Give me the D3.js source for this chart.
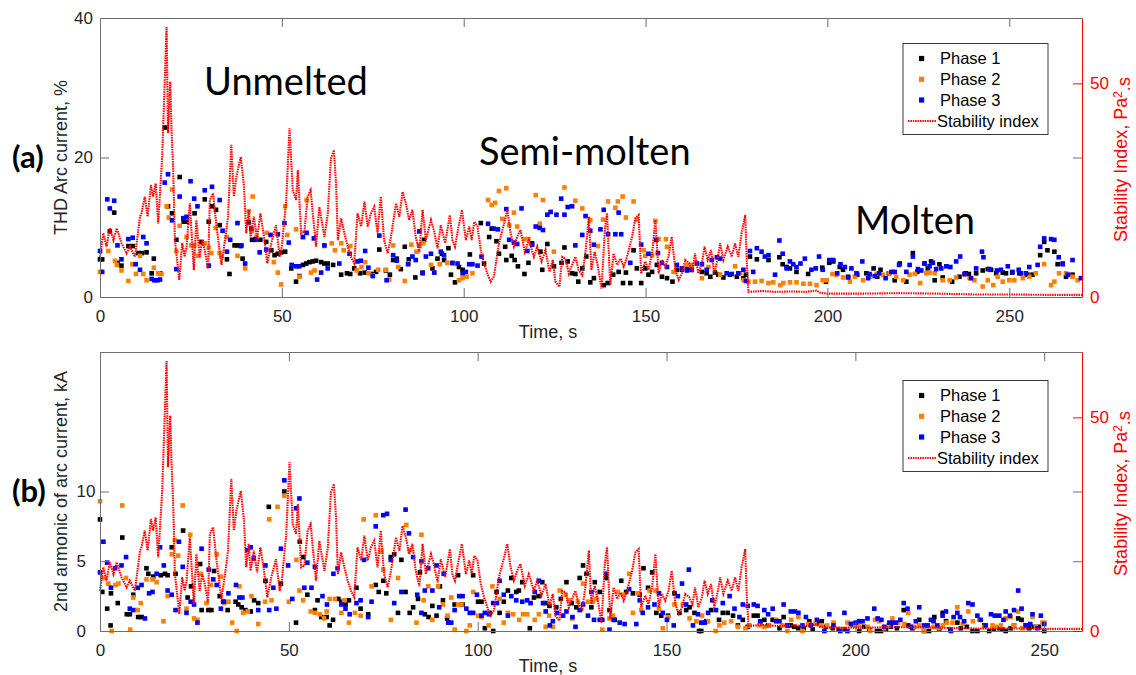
<!doctype html>
<html>
<head>
<meta charset="utf-8"/>
<style>
  html, body { margin: 0; padding: 0; background: #fff; }
  svg { display: block; }
  text { font-family: "Liberation Sans", Arial, sans-serif; }
  .note { font-family: Lato, "Open Sans", sans-serif; }
</style>
<script src="https://cdn.jsdelivr.net/npm/d3@7"></script>
</head>
<body>
<svg width="1136" height="675"></svg>
<script>
// ---- data: [time s, value] ----
var phase1A = [[0,5.4],[0.6,5.4],[2.7,9.4],[3.9,12.1],[4.8,4.9],[5.9,4.5],[7.8,7.3],[9,7.3],[10.5,6.3],[11.5,6.3],[12.8,6.4],[14.2,3.4],[14.8,5.5],[16.5,3.4],[17.8,24.3],[18.7,13],[19.8,12],[21,8.2],[21.9,17.2],[23,10.8],[23.8,10.8],[26,12],[27.9,7.9],[28.8,14],[29.9,10.8],[30.8,13],[31.9,12.5],[32.9,10.3],[34.9,5.4],[35.6,3.3],[37,7.4],[37.8,7.4],[38.7,7.3],[39.2,5.5],[40.9,10.7],[41.8,8.2],[42.7,8.2],[44.1,8.2],[45.7,7.9],[47.1,6.7],[48,6.0],[48.9,6.2],[49.8,6.4],[50.9,6.5],[52.6,4.1],[53.9,2.2],[54.8,3.0],[55.8,4.6],[56.7,4.8],[57.6,5.0],[58.5,5.1],[59.4,5.2],[60.8,5.0],[61.7,4.8],[62.6,4.8],[64.1,4.6],[66.3,3.2],[67.9,3.4],[68.8,3.3],[69.9,4.1],[71.5,3.4],[72.8,3.5],[75,3.3],[75.9,3.6],[76.8,6.8],[78.6,3.8],[79.7,3.2],[80.6,5.3],[81.6,5.5],[82.7,4.0],[83.8,7.2],[84.9,5.4],[86.7,2.8],[87.8,7.4],[88.7,3.5],[89.1,8.2],[91.4,4.1],[92.8,5.5],[94,6.2],[94.6,5.3],[95.8,7.0],[96.5,3.2],[97.6,2.1],[98.7,4.3],[99.7,3.9],[101.7,6.1],[104.7,10.6],[105.6,4.8],[107,8.6],[107.7,9.8],[109,8.0],[109.7,6.2],[111.4,7.2],[111.7,5.3],[113.2,5.9],[114,5.3],[114.9,4.4],[116.7,3.3],[117.8,4.9],[118.8,7.7],[121.1,6.5],[121.6,3.9],[123,7.6],[124.8,4.4],[126.9,4.9],[127.7,7.1],[128.6,5.1],[129.8,3.4],[130.7,3.3],[131.5,2.2],[132.6,4.1],[133.7,5.8],[134.8,2.1],[135.8,2.7],[138.5,1.7],[139.6,2.0],[141.1,3.2],[142.6,3.6],[143.8,2.0],[144.6,3.5],[145.8,2.0],[146.7,6.7],[147.6,4.1],[148.8,2.0],[149.9,4.1],[150.8,3.2],[151.8,3.6],[153.1,4.6],[154.5,2.9],[155.9,2.7],[157.4,2.2],[158.6,3.9],[160,3.9],[161.4,4.1],[162.7,3.9],[165.5,3.6],[166.8,3.4],[167.8,2.9],[169.1,3.5],[170,3.2],[171.4,2.8],[173.2,3.2],[175.1,2.9],[176.9,2.7],[177.6,3.2],[178.7,5.8],[180.6,5.4],[183.8,5.3],[186.8,5.7],[187.7,4.7],[188.8,4.3],[189.7,4.1],[191.5,3.6],[194.7,3.3],[198.6,4.2],[199.6,2.2],[200.5,4.9],[201.6,5.1],[203.4,4.3],[204.3,3.9],[205.7,2.9],[208.2,3.2],[210.7,3.4],[212.7,4.1],[213.7,2.9],[214.6,3.9],[216.9,3.4],[218.5,2.4],[219.9,4.8],[221.7,2.2],[223.5,6.3],[224.7,3.6],[226.7,4.8],[227.6,4.1],[228.5,5.1],[229.5,2.4],[230.8,4.7],[231.7,2.8],[234.3,2.2],[236.3,2.9],[238,3.4],[238.9,3.3],[240.9,3.4],[242.7,3.8],[244.1,4.0],[245,3.9],[246.4,3.4],[248.2,3.5],[249.1,3.4],[250.8,3.5],[252.8,3.4],[255,3.2],[256.4,3.2],[258.5,6.0],[259.6,7.9],[260.5,6.7],[262.4,6.5],[263.3,4.7],[264.7,4.8],[265.6,2.9],[267.4,3.2]];

var phase2A = [[0,3.6],[2.3,6.6],[4.1,5.2],[4.6,4.6],[5.9,3.8],[7.8,2.3],[8.9,4.7],[9.9,3.3],[11,5.9],[11.9,3.3],[12.8,2.4],[14.8,4.2],[16,3.4],[16.9,3.3],[18.3,13],[18.9,11.4],[19.8,15.4],[21,6.6],[21.9,10.2],[23.8,8.6],[25.1,7.4],[25.9,7.4],[27,5.9],[28.8,7.7],[29.9,7.1],[30.6,6.3],[31.8,9.9],[32.9,6.3],[33.4,5.8],[34.9,8.6],[37.8,5.9],[39.9,4.1],[40.9,12.3],[41.8,9.5],[42,14.4],[43,8.6],[45.9,9.2],[47.8,5.0],[48.9,3.5],[49.8,1.8],[50.9,13],[51.5,8.9],[53.9,9.7],[54.8,2.9],[55.8,8.6],[56.8,13.9],[58,3.5],[59,3.8],[61.7,7.3],[63.7,7.7],[64.6,6.7],[66.3,7.7],[67,6.7],[68.8,7.3],[70.6,3.8],[71.9,4.3],[72.9,5.0],[73.8,3.4],[75,3.1],[76.5,3.9],[78.6,3.9],[79.5,2.5],[80.6,7.4],[82,4.3],[83.8,2.3],[84.9,4.8],[85.6,7.5],[87,6.5],[87.9,7.4],[88.9,7.7],[91,4.6],[91.9,3.5],[93.4,4.7],[95.5,4.9],[96.9,4.8],[98.7,2.4],[99.7,2.7],[100.8,2.9],[102.4,3.4],[106.7,13.9],[107.7,13.2],[108.6,13.5],[109.7,15.2],[110.6,11.2],[111.7,15.6],[112.5,10.3],[113.8,12.1],[114.7,10.1],[116.8,8.3],[117.8,8.3],[119.8,14.6],[120.9,10.5],[121.8,13.9],[124.8,6.5],[127.7,15.7],[130.7,13.8],[132.6,12.7],[134.8,11],[136.9,7.3],[138.3,11.1],[139.7,13.7],[141.7,12.8],[142.4,13.7],[143.7,14.4],[144.6,11.4],[146.7,13.7],[147.6,11.1],[149.5,6.7],[149.9,5.9],[151.8,6.0],[152.7,10.9],[153.6,8.3],[155.6,8.3],[155.9,7.2],[157.7,3.6],[160,4.1],[161.4,4.6],[162.7,4.6],[165.5,2.7],[167.3,4.3],[170.5,3.2],[174.6,4.4],[176,3.4],[177,2.4],[178.3,2.2],[180.1,2.2],[181.9,2.3],[183.8,2.0],[185.1,2.1],[187,1.7],[187.9,2.0],[189.7,2.1],[191.5,2.1],[193.4,1.9],[195.2,1.9],[197,1.7],[198.7,2.4],[199.8,2.4],[201.4,3.3],[202.5,3.2],[204.3,2.8],[206.2,2.2],[207.5,2.9],[209.8,2.4],[211.6,2.9],[213.5,3.3],[215.3,3.2],[217.1,3.4],[218.9,2.9],[220.8,2.4],[222.6,3.2],[224,3.3],[225.5,2.0],[227.2,3.4],[228.1,3.5],[229.5,3.4],[231.7,2.4],[233.6,2.4],[235.4,2.8],[237.7,3.2],[239.1,2.7],[240.4,2.4],[242.7,1.5],[244.1,2.4],[245.6,1.7],[246.8,2.9],[248.2,2.2],[250,2.4],[251.4,2.4],[253.7,2.7],[255.5,2.9],[257.3,3.4],[259.6,4.7],[261.5,1.7],[262.4,2.2],[263.7,3.4],[265.6,3.4],[267.4,2.9],[268.8,2.4]];

var phase3A = [[0,6.6],[0.6,3.6],[2,14.0],[2.7,12.7],[3.9,13.8],[4.8,7.4],[5.9,5.4],[7.8,8.3],[9,8.5],[9.8,4.7],[11,3.9],[11.9,8.6],[12.8,7.7],[14.2,2.6],[14.9,2.4],[15.8,2.4],[16.5,2.5],[17.8,16.4],[18.7,17.6],[19.8,11],[21,4],[21.9,14.4],[22.9,11.3],[23.8,11.5],[24.9,16.6],[25.9,14.1],[26.8,13],[28.8,15.3],[29.9,4.5],[30.8,15.8],[32.9,13.9],[33.7,9.5],[34.9,6.5],[35.8,8.2],[37.8,10.6],[38.9,7.4],[39.9,4.8],[41.6,9.8],[42.8,8.3],[43.9,6.4],[45.7,6.8],[46.9,8.9],[48.9,9.0],[50.7,10.6],[51.9,7.8],[52.7,4.6],[53.9,4.4],[54.8,4.4],[55.8,8.6],[56.8,9.2],[58.8,8.4],[59.7,2.5],[60.8,3.5],[61.7,7.4],[62.6,4.1],[65.8,4.8],[68.6,6.2],[70.8,5.1],[71.7,5.2],[72.9,6.6],[73.8,4.2],[75,3.0],[76.8,8.8],[78.8,2.4],[80.6,6.0],[81.6,5.2],[84.7,4.7],[85.9,5.8],[86.8,5.3],[87.8,9.4],[88.7,3.4],[89.6,5.8],[91,6.2],[91.9,3.5],[93.7,6.5],[94.6,6.0],[96.9,4.9],[98.3,4.8],[99.7,3.4],[100.6,3.6],[101.5,4.7],[102.4,4.7],[103.8,4.5],[104.9,5.8],[106.7,10.5],[108.3,9.8],[109.4,9.7],[111.7,12.6],[112.5,8.2],[113.8,7.8],[114.7,7.6],[115.9,12.7],[117.5,6.6],[118.8,7.5],[119.8,10.1],[120.9,9.9],[121.8,9.6],[123,11.8],[123.9,12.2],[125.5,11.8],[126.8,14.1],[127.7,11.8],[128.6,12.9],[129.8,13.0],[130.7,7.4],[132.6,8.9],[133.5,11.6],[134.8,9.5],[135.8,7.5],[137.6,9.7],[138.5,12.5],[139.7,9.0],[141.7,9.0],[142.6,12.1],[143.3,9.0],[145.8,4.9],[148.8,7.5],[150.8,6.2],[152.9,8.2],[153.4,6.3],[154.5,4.9],[155.9,4.3],[158.6,4.6],[160,4.1],[161.4,3.8],[162.7,3.9],[164.1,4.8],[165.5,4.7],[166.8,3.9],[168.2,5.3],[169.6,5.7],[170.5,5.5],[172.3,3.4],[173.7,3.3],[175.5,3.4],[176.9,3.9],[177.6,2.3],[178.7,6.6],[179.6,3.6],[180.6,7.0],[181.9,6.5],[182.8,5.8],[183.8,6.0],[185.6,3.2],[186.8,8.1],[187.7,6.2],[188.8,4.1],[189.7,5.1],[190.6,4.7],[191.5,4.3],[192.6,4.8],[193.8,5.5],[195.6,3.9],[196.8,4.1],[197.7,5.8],[198.7,3.9],[200.5,5.3],[201.6,5.3],[202.7,3.4],[203.6,4.7],[204.8,4.3],[205.7,2.8],[206.6,4.1],[208,3.4],[209.6,5.1],[211.2,2.7],[211.6,3.3],[213,3.0],[214.2,3.4],[216,2.7],[217.6,3.6],[218.5,3.6],[219.7,4.6],[221.7,3.6],[222.6,4.6],[223.5,5.8],[224.9,4.0],[225.8,3.8],[226.7,4.8],[228.1,4.4],[229,4.9],[229.9,4.0],[231.3,4.1],[232.7,4.4],[233.8,4.3],[235.4,5.1],[236.5,5.8],[237.7,3.3],[239.5,2.7],[240.9,4.1],[242.5,6.5],[242.9,5.7],[244.5,4.0],[246.6,3.8],[247.7,3.9],[249.6,4.4],[250.9,3.6],[252.6,3.9],[253.2,3.4],[254.6,3.4],[255.5,4.3],[257.8,4.6],[258.5,7.2],[259.6,8.4],[261.5,8.3],[262.4,8.2],[263.6,5.7],[264.7,4.7],[266.1,3.2],[267.4,5.3],[269.7,2.7]];

var phase1B = [[0,8.0],[0.6,2.8],[1.9,1.6],[2.8,0.4],[2.9,2.7],[4.7,2.0],[5.9,6.7],[7.1,1.2],[7.9,1.2],[8.8,2.6],[10.1,1.0],[11,1.0],[12.3,4.5],[12.8,4.1],[14.1,3.9],[16.1,4.0],[17.2,4.1],[17.9,4.0],[19,6.0],[20,4.1],[22,7.2],[23.2,2.4],[24.1,3.2],[26.5,4.8],[26.9,1.5],[28.7,1.5],[29.5,1.5],[30.2,4.3],[31.7,2.5],[32.6,2.1],[33.8,1.5],[35.9,2.1],[36.6,1.9],[37.5,1.7],[38.5,1.5],[39.9,1.4],[40.8,2.2],[41.9,2.0],[43.8,3.6],[44.7,8.9],[47.9,3.4],[48.8,10.0],[51.9,0.6],[52.9,6.4],[53.8,5.3],[54.9,2.6],[56.9,1.5],[57.6,2.2],[58.6,1.0],[60,1.0],[60.8,0.4],[61.7,0.8],[63.1,2.3],[63.9,2.1],[65,1.9],[65.9,2.2],[67.9,3.1],[69,1.6],[71,1.2],[73,3.3],[73.8,2.8],[75,3.6],[75.8,2.7],[77,5.3],[77.9,5.5],[78.9,1.3],[79.8,5.1],[80.9,2.8],[82,1.3],[82.9,1.7],[84.2,2.3],[84.7,4.2],[86,1.2],[87,1.0],[88,1.8],[89.1,1.1],[90,3.2],[90.8,2.2],[91.9,0.9],[93.9,1.9],[94.8,4.0],[96,1.9],[98.8,4.0],[100.1,2.1],[101,2.1],[101.9,0.2],[103.2,1.3],[104.1,0],[105,2.8],[105.8,1.3],[106.9,2.1],[108,2.9],[108.9,3.8],[110.2,2.8],[110.9,2.9],[111.8,3.5],[113.8,0.2],[114.9,2.4],[116.1,2.5],[117.1,3.5],[117.9,2.0],[119,1.8],[120.8,1.7],[122,2.3],[123.5,3.5],[124.9,2.0],[126.1,1.7],[127,3.8],[127.9,4.7],[128.8,4.1],[130.1,1.7],[131,3.5],[132.3,2.8],[134,3.8],[134.9,1.5],[136.3,0.8],[138,3.6],[139.3,2.8],[141.1,2.7],[142.9,2.6],[143.9,4.5],[145.1,3.1],[146.2,4.2],[147.3,1.3],[148.6,1.1],[150.4,1.1],[152.1,2.7],[153.4,1.3],[155.2,1.5],[156.1,1.7],[157.4,1.3],[158.6,0],[159.2,0],[160.5,0.7],[161.8,1.5],[163.9,0.8],[164.9,1.3],[166.2,1.3],[167.6,1.1],[168.9,0.4],[170.2,0.8],[171.5,0.3],[173.1,1.1],[174.1,1.1],[174.8,0.6],[175.9,0.8],[176.9,0.4],[178.1,0.8],[179.9,0.2],[181,1.0],[182.1,0.4],[182.9,0.4],[183.8,0.3],[184.9,0.2],[186.3,0.2],[187.8,0.7],[188.7,0.1],[190,0.6],[191.1,0.7],[192.2,0.3],[194,0.2],[195.6,0.1],[197.1,0.1],[199,0.5],[200.1,0.4],[201,0],[202.3,0.3],[203.7,0.1],[205.7,0],[206.8,0],[208.1,0.1],[209.4,0.3],[211,0.2],[212.8,1.5],[214,0.4],[215.1,0.2],[216.9,0.8],[218.2,0],[219.5,0],[220.9,1.0],[222.2,0.1],[223.1,1.3],[224,0.7],[225.1,0.1],[227,0.6],[227.9,0.2],[229.5,0.3],[231,0],[232.3,0],[234.1,0.4],[235.4,0],[236.7,0.1],[238.1,0.2],[238.9,0.1],[239.8,0],[241.1,0.2],[242,0.4],[243.1,0.9],[244,0.8],[245.1,0.4],[246,0.2],[247.3,0.3],[248.6,0.3],[250,0]];

var phase2B = [[0,9.3],[0.9,3.8],[2.2,3.4],[3.1,0],[4.1,3.3],[4.9,3.4],[5.9,9.0],[6.9,3.8],[8,0.1],[8.8,2.4],[10,1.5],[10.8,2.0],[12.3,3.7],[13.9,3.7],[15,3.5],[16.8,0.7],[17.9,2.5],[19,5.5],[19.8,6.5],[20.7,5.4],[21.9,9.0],[22.9,1.6],[23.9,6.9],[24.9,0.9],[25.8,0.8],[26.7,4.1],[28.2,2.0],[29.4,3.3],[30.9,5.5],[32,3.9],[32.9,2.0],[34,2.1],[35,0.6],[36.2,0],[36.9,3.2],[37.9,1.3],[39.1,1.4],[40.1,2.5],[41.9,0.5],[43.7,2.1],[44.8,8.0],[45.4,2.2],[47,8.9],[48.8,9.7],[50,2.1],[52,5.1],[52.8,2.9],[53.8,2.2],[55.8,1.4],[56.9,1.3],[58.2,1.2],[59.3,0.9],[60,1.4],[60.8,2.3],[62.2,2.3],[63.9,1.3],[64.6,2.2],[65.9,0.6],[67.5,1.3],[69,1.1],[69.8,8.0],[71.9,3.2],[73,8.3],[74.5,5.7],[75,4.4],[77,0.8],[78.9,3.8],[81.1,7.6],[82,5.8],[83.8,0.6],[85.1,6.9],[85.7,2.2],[86.9,3.2],[88,0.8],[89.5,3.2],[90.8,1.9],[92,1.1],[93,2.4],[93.9,0.1],[94.8,1.9],[95.7,1.9],[97,0],[97.9,0.4],[98.8,2.8],[100.1,1.1],[101,1.0],[102.9,0.4],[103.9,3.2],[105.8,2.3],[106.9,0.6],[108,1.3],[109.4,1.2],[111,0.8],[112,1.2],[113.1,1.2],[115.1,0.8],[116.2,1.2],[118,0.3],[118.9,1.1],[119.9,0.3],[121.7,2.9],[123.3,2.6],[124.2,2.2],[125,0.9],[126.5,2.1],[127.9,3.4],[129.2,2.1],[130.5,2.1],[131.4,2.3],[133,0.1],[134.9,0.9],[135.8,1.1],[137.1,2.8],[138.5,2.6],[140.1,4.1],[141.1,1.3],[142.4,2.7],[143.3,1.5],[145.5,2.9],[147.1,2.9],[148,1.6],[149,0.2],[150.4,1.0],[152.1,1.9],[154.3,1.9],[156.1,0.9],[157.9,0.7],[159.4,1.1],[161,0.7],[163,0],[164,0.4],[165.3,0.6],[167.1,0.7],[168.9,0.3],[170.9,0.2],[172,0.4],[174.6,0.4],[175.9,0.3],[177.2,0.4],[179,0.8],[180.7,0.4],[182,0],[183,0.8],[184.9,1.0],[186,0],[187.5,0.5],[189.3,0.5],[190.9,0.4],[192.5,0.4],[194.2,0.6],[196.2,0.1],[197.9,0.6],[199.7,0.4],[201,0.4],[203.2,0.3],[203.9,0],[205.2,0.8],[206.3,0.7],[207.6,0.2],[208.7,0.4],[209.8,0.9],[211.3,0.6],[212.9,0.5],[214,1.3],[215.6,0.3],[216.9,0.4],[218.1,0],[219.1,0.4],[220.7,0.3],[222,0.2],[223.1,0.4],[224.2,0.6],[225.7,0.6],[227,1.7],[228.4,0.5],[229.9,1.4],[231.1,0.7],[232.8,0.8],[234.1,0.3],[236.3,0.4],[237.2,0.3],[238.5,0.4],[239.8,0.9],[241.1,1.0],[241.9,0.4],[243.1,1.4],[244.2,0.2],[246.9,1.0],[247.8,0.3],[249.5,0.6],[250,0.6]];

var phase3B = [[0,4.2],[0.9,6.4],[1.9,4.9],[2.9,3.1],[4,4.5],[5.7,4.7],[6.9,5.3],[7.9,1.6],[8.8,1.5],[10,3.1],[11,3.3],[11.9,0.9],[13,2.7],[13.9,2.8],[15,4.1],[15.9,6.0],[16.9,4.7],[17.9,2.9],[19,2.6],[20,1.5],[20.9,6.4],[21.9,4.6],[22.9,1.3],[24,2.1],[24.9,1.9],[25.8,0.6],[26.9,5.9],[28.8,4.4],[30,3.7],[30.9,3.3],[32,1.6],[32.8,2.1],[34,2.7],[36,3.3],[36.9,2.4],[37.7,2.4],[39,5.8],[39.9,6.0],[40.7,5.2],[41.9,1.5],[43.8,4.7],[44.8,1.5],[45.9,3.1],[46.7,1.6],[47.9,5.9],[48.8,10.8],[49.8,4.7],[50.9,2.3],[51.9,8.8],[52.8,9.5],[54.1,3.1],[54.9,4.9],[56,3.1],[56.9,4.6],[58.9,2.5],[60.1,1.9],[61.8,4.1],[62.9,4.5],[63.9,1.9],[65,1.6],[66.1,1.2],[67.9,2.0],[69,2.2],[69.9,5.1],[71,1.0],[71.9,2.1],[73,7.5],[75,8.3],[76,8.4],[77,5.1],[77.9,2.0],[79.8,2.8],[80.9,8.7],[81.8,7.0],[82.9,5.3],[84,2.6],[85.1,1.3],[85.1,5.0],[86,2.9],[86.9,4.5],[88,2.9],[89.1,4.7],[89.8,1.7],[91,4.1],[92.2,0.6],[93,0.6],[93.9,1.5],[95.1,2.5],[96,2.5],[97,1.6],[97.9,1.3],[98.8,1.3],[99.8,2.6],[101,1.1],[101.9,1.3],[103,1.2],[104.1,2.0],[105.1,2.0],[105.8,3.6],[106.9,2.6],[108,1.1],[108.9,2.5],[110.2,2.2],[111.8,2.1],[113.1,2.2],[114,2.0],[115.1,2.8],[116.2,3.6],[117.3,2.0],[118,1.4],[119.1,0.4],[119.9,0.7],[121,1.3],[122.6,1.1],[123.5,1.4],[125.1,1.0],[125.9,0.3],[127,1.5],[127.9,1.9],[129.2,1.1],[130.1,2.8],[130.8,0.8],[132.3,0.8],[133,0.8],[134,4.1],[134.9,0.1],[136,0.8],[137.6,0.6],[138.9,0.5],[140.1,3.0],[142,0.5],[142.9,2.2],[143.7,1.3],[145.1,1.7],[146.8,1.9],[148,2.7],[149,1.3],[150.1,0.8],[151.9,0.4],[153,2.5],[154.1,3.4],[155.2,1.9],[155.9,4.4],[157,0.4],[158.3,1.2],[159.2,0.6],[160.1,0.6],[161,1.3],[162.1,2.2],[163.1,1.5],[164.9,2.0],[166.7,2.5],[168,1.6],[169.3,1.0],[170.2,1.9],[171.5,1.8],[173.1,1.9],[174.1,1.8],[174.8,0.7],[175.9,1.5],[176.9,1.2],[178.1,1.6],[179,0.7],[179.9,0.7],[181,1.9],[182.1,0.4],[182.9,1.4],[184,1.4],[184.9,1.3],[186,0.4],[186.9,1.0],[188.2,0.4],[189.8,0.8],[191.8,0],[193.1,1.2],[194.2,0.4],[196,0],[197.1,1.3],[197.9,0],[198.8,0.5],[200.1,0.6],[201,0.7],[201.9,0.7],[203.2,0.9],[205,1.6],[205.9,0.9],[206.9,0.8],[207.6,0.3],[209,0.6],[209.8,0.6],[210.7,0.6],[211.9,0.8],[212.8,2.0],[213.8,1.6],[214.7,0.3],[216,0.7],[216.9,1.7],[218.2,0.4],[219.1,0.4],[220,0.8],[220.7,0.7],[221.7,0.4],[223.1,1.1],[224,1.4],[225.3,0],[226,1.0],[227,1.3],[227.7,1.0],[228.8,0.7],[229.9,2.0],[231,1.9],[232.3,1.1],[233.2,0.8],[234.5,0.4],[235.9,1.2],[236.9,1.1],[238.1,1.1],[239.2,0.8],[239.8,1.4],[240.9,1.1],[242,1.5],[243.1,2.9],[244,1.6],[245.1,0.4],[246.3,0.5],[246.9,1.2],[248.2,0.2],[249.1,1.1],[250,0.5]];

// stability index, time on its own 0-270 s axis (same curve in both panels)
var stability = [[0,9.4],[0.9,14.9],[1.8,11.8],[2.7,16.1],[3.7,13.3],[4.6,16.1],[5.9,12.6],[7.3,10.2],[8.2,11.8],[9.6,9.4],[11,18.8],[11.4,19.6],[12.3,23.5],[13.1,18.8],[14,26.2],[14.6,23.5],[15.3,26.6],[16,17.2],[17.1,32.8],[18.3,63.2],[18.7,38.4],[19.3,50.4],[19.7,38.3],[20.1,30.5],[20.6,13.3],[21.8,4.0],[22.6,12.6],[23.3,9.4],[23.8,11.8],[24.7,21.9],[25.8,6.3],[26.5,18.0],[27.4,9.4],[28.1,13.3],[28.8,11],[29.7,6.7],[30.2,22.7],[31.1,24.3],[32,16.8],[33.4,7.5],[34.5,14.1],[35.2,18.8],[36.1,35.6],[36.8,23.5],[37.5,28.2],[38.7,32.8],[39.6,25.8],[40.2,14.9],[40.9,20.4],[41.4,14.1],[42.3,18.8],[43.2,13.7],[44.1,19.6],[45.1,14.1],[46,7.9],[47.1,12.6],[48.4,16.8],[49.4,9.4],[50,11.8],[51.2,22.7],[52.1,39.5],[53,25],[53.9,22.7],[54.4,29.7],[55.3,14.9],[56.2,15.3],[57.1,23.5],[57.9,25],[58.5,19.6],[59.4,11.8],[60.3,21.1],[61.7,14.1],[62.6,19.2],[63.5,32.4],[64.3,34.4],[64.9,26.6],[65.4,13.3],[66.3,18.4],[67.2,14.9],[68.1,11.8],[69,9.4],[69.9,7.9],[70.8,19.6],[71.8,16.5],[72.7,22.3],[73.6,16.5],[74.5,19.6],[75.4,21.1],[76.3,14.9],[77.2,23.5],[78.1,13.3],[79.1,10.2],[80,14.1],[81.4,21.9],[82.3,18.8],[83.2,24.6],[84.1,21.9],[85,18],[85.9,20.4],[86.8,14.1],[87.8,10.5],[88.7,20.4],[89.6,13.3],[91,18],[91.9,15.3],[92.8,11.4],[93.7,16.8],[94.9,12.6],[96.2,19.2],[96.9,13.3],[97.6,11.8],[98.6,16.5],[99.5,20.4],[100.6,13.3],[101.5,16.5],[102.2,13.3],[102.9,17.6],[103.8,16.5],[104.7,11],[105.6,7.9],[106.5,5.5],[107.4,3.6],[108.3,4.8],[109.7,12.6],[111.1,17.2],[112,20.4],[112.9,14.9],[113.8,11.8],[114.7,14.1],[115.6,15.7],[116.8,10.6],[117.9,13.3],[119.3,9.4],[120.2,11.8],[121.4,8.3],[122.5,11],[123.6,5.9],[124.5,8.7],[125.2,3.6],[126.3,2.4],[127.1,9.4],[128,9],[128.9,5.5],[129.8,7.5],[130.7,9.4],[131.6,6.3],[132.6,5.1],[133.5,10.6],[134.4,18.8],[135.1,6.3],[136,10.6],[136.9,7.1],[137.9,2.0],[138.8,15.7],[139.4,19.6],[140.3,2.8],[141.2,10.2],[142.2,7.5],[143.1,9],[144,7.1],[144.9,9.4],[146.3,14.1],[147.2,18.4],[148.1,19.2],[148.8,5.5],[149.9,8.3],[150.8,6.3],[151.8,10.2],[152.7,18],[153.6,5.5],[154.5,8.7],[155.4,7.1],[156.3,9.4],[157.2,14.1],[158.2,6.3],[159.1,4.0],[160,5.5],[160.9,8.7],[162,7.9],[162.9,6.3],[163.6,10.2],[164.5,5.5],[165.5,7.9],[166.2,11.8],[167.1,8.7],[168,11],[168.9,5.5],[169.9,9.4],[170.5,12.6],[171.4,8.7],[172.6,11.8],[173.7,9.4],[174.6,12.6],[175.5,9.4],[176.4,14.9],[177.4,19.2],[177.8,8.7],[178.3,1.2],[182,1.4],[186,1.2],[190,1.3],[194,1.2],[197,1.5],[198,1.0],[200,0.8],[210,0.8],[220,0.9],[230,0.8],[240,0.6],[250,0.6],[260,0.5],[270,0.5]];

var timeTicks = [0, 50, 100, 150, 200, 250];
var thdTicks = [0, 20, 40];
var harmTicks = [0, 5, 10];
var stabTicks = [0, 50];
var legendLabels = ["Phase 1", "Phase 2", "Phase 3", "Stability index"];
var phaseColors = ["#000000", "#ff8000", "#0000ff"];
var stabColor = "#ff0000";
var stabMax = 65.3, stabTimeMax = 270;

var svg = d3.select("svg");
var axisGrey = "#6e6e6e", textGrey = "#262626";

function panel(o) {
  var g = svg.append("g");
  var x = d3.scaleLinear().domain([0, o.xMax]).range([100, 1082]);
  var xs = d3.scaleLinear().domain([0, stabTimeMax]).range([100, 1082]);
  var y = d3.scaleLinear().domain([0, o.yMax]).range([o.bottom, o.top]);
  var y2 = d3.scaleLinear().domain([0, stabMax]).range([o.bottom, o.top]);

  // phases
  o.phases.forEach(function(ph, i) {
    g.append("g").selectAll("rect").data(ph).enter().append("rect")
      .attr("x", function(d) { return x(d[0]) - 2.3; })
      .attr("y", function(d) { return y(d[1]) - 2.3; })
      .attr("width", 4.6).attr("height", 4.6)
      .attr("fill", phaseColors[i]);
  });

  // stability index
  g.append("path").datum(stability)
    .attr("d", d3.line().x(function(d) { return xs(d[0]); }).y(function(d) { return y2(d[1]); }))
    .attr("fill", "none").attr("stroke", stabColor)
    .attr("stroke-width", 2.1).attr("stroke-dasharray", "1.5,0.9");

  // box: top ticks
  var top = g.append("g").attr("transform", "translate(0," + o.top + ")")
    .call(d3.axisTop(x).tickValues(timeTicks).tickSizeInner(-9).tickSizeOuter(0).tickFormat(""));
  // bottom axis
  var bot = g.append("g").attr("transform", "translate(0," + o.bottom + ")")
    .call(d3.axisBottom(x).tickValues(timeTicks).tickSizeInner(-9).tickSizeOuter(0).tickPadding(13));
  // left axis
  var left = g.append("g").attr("transform", "translate(100,0)")
    .call(d3.axisLeft(y).tickValues(o.yTicks).tickSizeInner(-9).tickSizeOuter(0).tickPadding(7));
  // mirrored left ticks on right side
  var mirror = g.append("g").attr("transform", "translate(1082,0)")
    .call(d3.axisRight(y).tickValues(o.yTicks).tickSizeInner(-9).tickSizeOuter(0).tickFormat(""));
  mirror.select(".domain").remove();
  // right red axis
  var right = g.append("g").attr("transform", "translate(1082,0)")
    .call(d3.axisRight(y2).tickValues(stabTicks).tickSizeInner(-9).tickSizeOuter(0).tickPadding(8));

  [top, bot, left, mirror].forEach(function(a) {
    a.attr("font-family", null).attr("font-size", 17);
    a.selectAll(".domain").attr("stroke", axisGrey);
    a.selectAll(".tick line").attr("stroke", axisGrey);
    a.selectAll(".tick text").attr("fill", textGrey);
  });
  right.attr("font-family", null).attr("font-size", 17);
  right.selectAll(".domain, .tick line").attr("stroke", stabColor);
  right.selectAll(".tick text").attr("fill", stabColor);
  if (o.leftAlignTicks) {
    left.selectAll(".tick text").attr("text-anchor", "start").attr("x", -23.5);
  }

  // axis labels
  g.append("text").attr("x", 548).attr("y", o.bottom + 35).attr("dy", "0.35em")
    .attr("text-anchor", "middle").attr("font-size", 18).attr("fill", textGrey).text("Time, s");
  var cy = (o.top + o.bottom) / 2;
  g.append("text").attr("transform", "translate(61," + cy + ") rotate(-90)").attr("dy", "0.35em")
    .attr("text-anchor", "middle").attr("font-size", 18).attr("fill", textGrey).text(o.yLabel);
  var rl = g.append("text").attr("transform", "translate(1121," + (cy + 2) + ") rotate(-90)").attr("dy", "0.35em")
    .attr("text-anchor", "middle").attr("font-size", 18).attr("fill", stabColor);
  rl.append("tspan").text("Stability Index, Pa");
  rl.append("tspan").attr("dy", "-0.45em").attr("font-size", 12).text("2");
  rl.append("tspan").attr("dy", "0.45em").text(".s");

  // panel tag
  g.append("text").attr("class", "note").attr("x", 12).attr("y", cy).attr("dy", "0.35em")
    .attr("font-size", 31).attr("font-weight", "bold").attr("fill", "#000").text(o.tag);

  // legend
  var lg = g.append("g").attr("transform", "translate(903," + o.legendTop + ")");
  lg.append("rect").attr("width", 145).attr("height", 91)
    .attr("fill", "#fff").attr("stroke", "#3a3a3a").attr("stroke-width", 1);
  var rows = [15, 35.8, 56.5, 77.5];
  legendLabels.forEach(function(lab, i) {
    if (i < 3) {
      lg.append("rect").attr("x", 16).attr("y", rows[i] - 2.6).attr("width", 5.2).attr("height", 5.2)
        .attr("fill", phaseColors[i]);
      lg.append("text").attr("x", 37).attr("y", rows[i]).attr("dy", "0.35em")
        .attr("font-size", 16.5).attr("fill", "#000").text(lab);
    } else {
      lg.append("line").attr("x1", 5).attr("x2", 33).attr("y1", rows[i]).attr("y2", rows[i])
        .attr("stroke", stabColor).attr("stroke-width", 2.1).attr("stroke-dasharray", "1.5,0.9");
      lg.append("text").attr("x", 34).attr("y", rows[i]).attr("dy", "0.35em")
        .attr("font-size", 16.5).attr("fill", "#000").text(lab);
    }
  });
  return g;
}

panel({ top: 18, bottom: 297, xMax: 270, yMax: 40, yTicks: thdTicks,
        yLabel: "THD Arc current, %", tag: "(a)", legendTop: 43.5,
        phases: [phase1A, phase2A, phase3A] });
panel({ top: 352, bottom: 631, xMax: 260, yMax: 20, yTicks: harmTicks, leftAlignTicks: true,
        yLabel: "2nd armonic of arc current, kA", tag: "(b)", legendTop: 380.5,
        phases: [phase1B, phase2B, phase3B] });

// melt-stage annotations on panel (a)
var notes = [
  { text: "Unmelted", x: 204, y: 95 },
  { text: "Semi-molten", x: 479, y: 165 },
  { text: "Molten", x: 855, y: 234 }
];
svg.selectAll("text.stage").data(notes).enter().append("text")
  .attr("class", "note stage")
  .attr("x", function(d) { return d.x; }).attr("y", function(d) { return d.y; })
  .attr("font-size", 38).attr("fill", "#000")
  .text(function(d) { return d.text; });
</script>
</body>
</html>
